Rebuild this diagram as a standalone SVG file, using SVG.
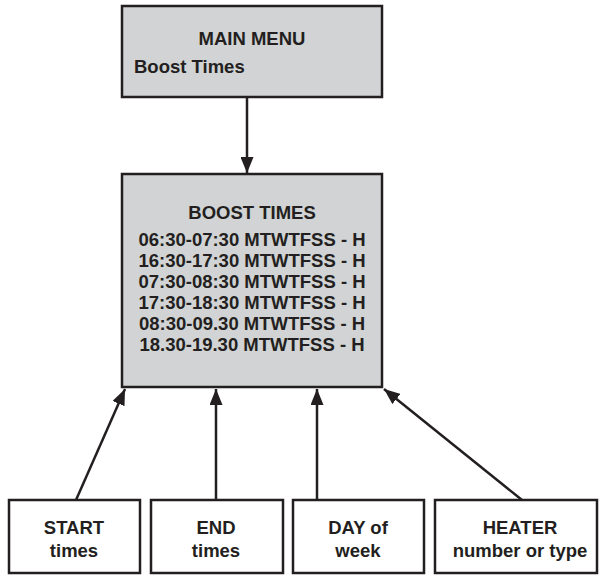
<svg xmlns="http://www.w3.org/2000/svg" width="602" height="575" viewBox="0 0 602 575">
<defs>
<style>
.box{fill:#d1d3d4;stroke:#231f20;stroke-width:2.5}
.wbox{fill:#ffffff;stroke:#231f20;stroke-width:2.5}
.t{font-family:"Liberation Sans",Arial,sans-serif;font-weight:bold;font-size:18.5px;fill:#231f20}
.m{text-anchor:middle}
.c{stroke:#231f20;stroke-width:2.5;fill:none;marker-end:url(#ah)}
</style>
<marker id="ah" viewBox="0 0 16 13" refX="16" refY="6.5" markerWidth="16" markerHeight="13" markerUnits="userSpaceOnUse" orient="auto">
<path d="M0,0 L16,6.5 L0,13 Z" fill="#231f20"/>
</marker>
</defs>
<rect width="602" height="575" fill="#ffffff"/>
<g id="main-menu">
<rect class="box" x="122" y="6" width="260" height="91"/>
<text class="t m" x="252" y="45">MAIN MENU</text>
<text class="t" x="134" y="73">Boost Times</text>
</g>
<g id="boost-times">
<rect class="box" x="122" y="174" width="260" height="213"/>
<text class="t m" x="252" y="219">BOOST TIMES</text>
<text class="t m" x="252" y="246">06:30-07:30 MTWTFSS - H</text>
<text class="t m" x="252" y="267">16:30-17:30 MTWTFSS - H</text>
<text class="t m" x="252" y="288">07:30-08:30 MTWTFSS - H</text>
<text class="t m" x="252" y="309">17:30-18:30 MTWTFSS - H</text>
<text class="t m" x="252" y="330">08:30-09.30 MTWTFSS - H</text>
<text class="t m" x="252" y="351">18.30-19.30 MTWTFSS - H</text>
</g>
<g id="start">
<rect class="wbox" x="9" y="500" width="131" height="73"/>
<text class="t m" x="74" y="534">START</text>
<text class="t m" x="74" y="557">times</text>
</g>
<g id="end">
<rect class="wbox" x="151" y="500" width="132" height="73"/>
<text class="t m" x="216" y="534">END</text>
<text class="t m" x="216" y="557">times</text>
</g>
<g id="day">
<rect class="wbox" x="293" y="500" width="131" height="73"/>
<text class="t m" x="358" y="534">DAY of</text>
<text class="t m" x="358" y="557">week</text>
</g>
<g id="heater">
<rect class="wbox" x="435" y="500" width="162" height="73"/>
<text class="t m" x="520" y="534">HEATER</text>
<text class="t m" x="520" y="557">number or type</text>
</g>
<g id="connectors">
<line class="c" x1="247" y1="97" x2="247" y2="173"/>
<line class="c" x1="76" y1="500" x2="125" y2="389"/>
<line class="c" x1="216" y1="500" x2="216" y2="389"/>
<line class="c" x1="317" y1="500" x2="317" y2="389"/>
<line class="c" x1="522" y1="500" x2="384" y2="389"/>
</g>
</svg>
